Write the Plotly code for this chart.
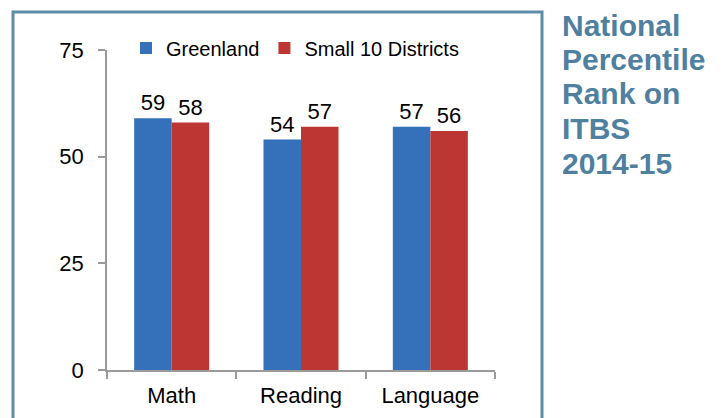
import plotly.graph_objects as go

categories = ["Math", "Reading", "Language"]
greenland = [59, 54, 57]
small10 = [58, 57, 56]
series_names = ["Greenland", "Small 10 Districts"]
y_ticks = [0, 25, 50, 75]
title_lines = ["National", "Percentile", "Rank on", "ITBS", "2014-15"]

# plot area in pixels
L, R, T, B = 107, 495, 50, 370
W, H = 722, 418
pw, ph = R - L, B - T

def px(x):
    return (x - L) / pw

def py(y):
    return (B - y) / ph

fig = go.Figure()
fig.add_trace(go.Bar(
    x=categories, y=greenland, name=series_names[0],
    marker=dict(color="#3571BA", line=dict(width=0)),
    text=greenland, textposition="outside", cliponaxis=False,
    textfont=dict(size=22, color="#000000"),
))
fig.add_trace(go.Bar(
    x=categories, y=small10, name=series_names[1],
    marker=dict(color="#BC3734", line=dict(width=0)),
    text=small10, textposition="outside", cliponaxis=False,
    textfont=dict(size=22, color="#000000"),
))

title_color = "#4F80A0"
centers = [25.7, 59.7, 94, 128.3, 163]
annotations = []
for line, yc in zip(title_lines, centers):
    annotations.append(dict(
        text="<b>" + line + "</b>", xref="paper", yref="paper",
        x=px(560), y=py(yc), xanchor="left", yanchor="middle",
        showarrow=False,
        font=dict(family="Liberation Sans, Arial, sans-serif",
                  size=30, color=title_color),
    ))

fig.update_layout(
    width=W, height=H,
    margin=dict(l=L, r=W - R, t=T, b=H - B, pad=0, autoexpand=False),
    paper_bgcolor="white", plot_bgcolor="white",
    font=dict(family="Liberation Sans, Arial, sans-serif", size=22, color="#000000"),
    barmode="group", bargap=0.42, bargroupgap=0,
    showlegend=True,
    legend=dict(orientation="h", x=px(126), xanchor="left", y=py(48), yanchor="middle",
                font=dict(size=20), bgcolor="rgba(0,0,0,0)", itemsizing="constant",
                tracegroupgap=0),
    xaxis=dict(showgrid=False, showline=True, linecolor="#9A9A9A", linewidth=1.5,
               ticks="outside", tickson="boundaries", ticklen=7, tickcolor="#9A9A9A",
               tickwidth=1.5, ticklabelstandoff=5, tickfont=dict(size=22)),
    yaxis=dict(range=[0, 75], tickvals=y_ticks, showgrid=False, zeroline=False,
               showline=True, linecolor="#9A9A9A", linewidth=1.5,
               ticks="outside", ticklen=7, tickcolor="#9A9A9A", tickwidth=1.5,
               ticklabelstandoff=10, tickfont=dict(size=22)),
    annotations=annotations,
    shapes=[dict(type="rect", xref="paper", yref="paper",
                 x0=px(13), x1=px(542), y0=py(440), y1=py(12),
                 line=dict(color="#5B8CA8", width=3), fillcolor="rgba(0,0,0,0)",
                 layer="below")],
)

fig.write_html("out.html", config={"displayModeBar": False},
               post_script="document.body.style.margin='0';document.body.style.overflow='hidden';")
